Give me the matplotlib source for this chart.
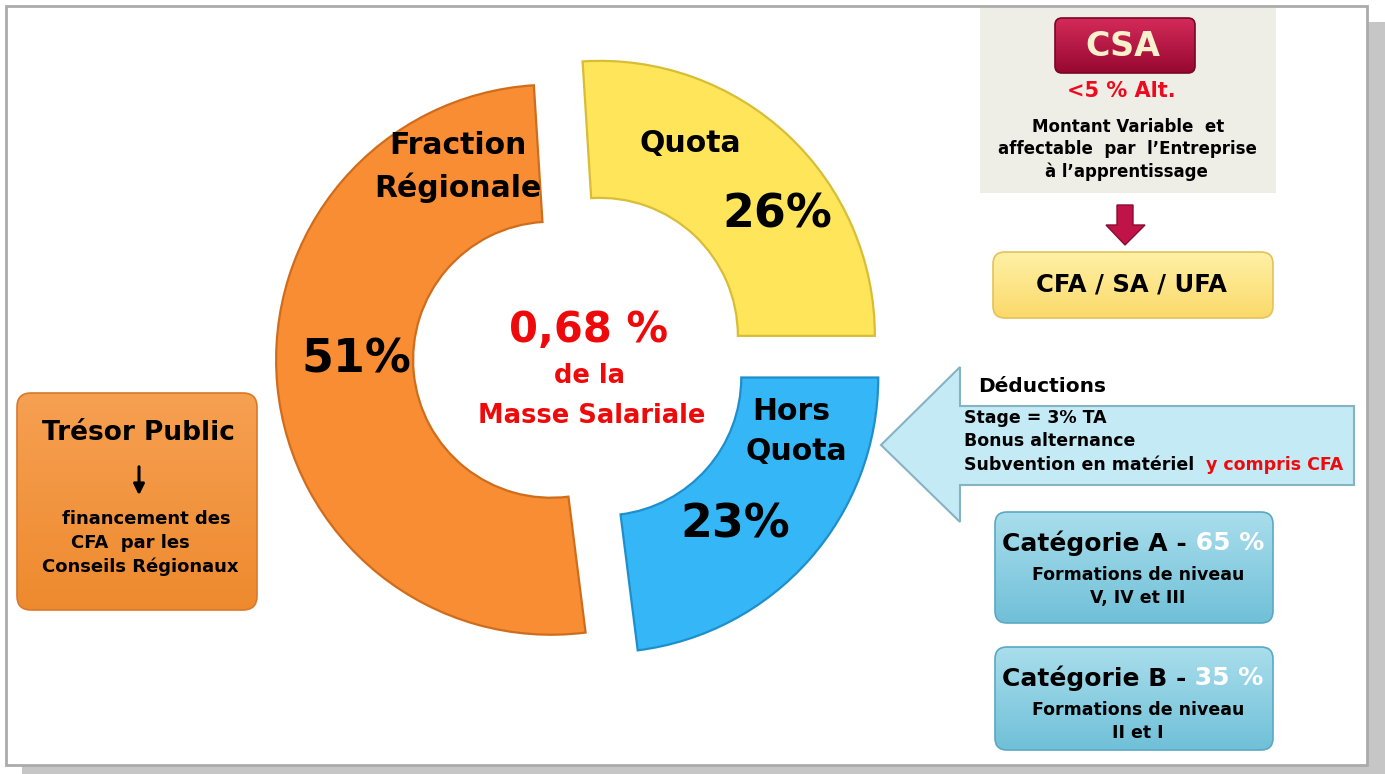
import numpy as np
import matplotlib
matplotlib.use("Agg")
import matplotlib.pyplot as plt
from matplotlib.patches import FancyBboxPatch, Polygon, Rectangle
from matplotlib.colors import LinearSegmentedColormap

# ---------------- data ----------------
categories = ["Quota", "Hors Quota", "Fraction Régionale"]
shares = [26, 23, 51]
center_title = ["0,68 %", "de la", "Masse Salariale"]
csa_lines = ["CSA", "<5 % Alt.", "Montant Variable  et", "affectable  par  l\u2019Entreprise", "à l\u2019apprentissage"]
cfa_label = "CFA / SA / UFA"
deduction_title = "Déductions"
deduction_lines = ["Stage = 3% TA", "Bonus alternance", "Subvention en matériel"]
deduction_red = "y compris CFA"
cat_names = ["Catégorie A -", "Catégorie B -"]
cat_pcts = [65, 35]
cat_desc = [["Formations de niveau", "V, IV et III"], ["Formations de niveau", "II et I"]]
tresor_title = "Trésor Public"
tresor_lines = ["financement des", "CFA  par les", "Conseils Régionaux"]

# ---------------- styles ----------------
W, H = 1385, 774
plt.rcParams['font.family'] = ['DejaVu Sans']
fig = plt.figure(figsize=(W / 100, H / 100), dpi=100, facecolor="white")
ax = fig.add_axes([0, 0, 1, 1])

def Y(y):
    return H - y

# frame + shadow
ax.add_patch(Rectangle((22, Y(774)), W - 22, 774 - 22, fc="#c6c6c6", ec="none", zorder=0))
ax.add_patch(Rectangle((6, Y(765)), 1361, 759, fc="white", ec="#ababab", lw=2, zorder=0.5))

def grad_box(x0, y0, x1, y1, c_top, c_bot, edge, rad, lw=1.2):
    p = FancyBboxPatch((x0 + rad, Y(y1) + rad), (x1 - x0) - 2 * rad, (y1 - y0) - 2 * rad,
                       boxstyle=f"round,pad={rad}", fc="none", ec=edge, lw=lw, zorder=3)
    ax.add_patch(p)
    grad = np.linspace(0, 1, 256)[:, None]
    cmap = LinearSegmentedColormap.from_list("g", [c_top, c_bot])
    im = ax.imshow(grad, extent=(x0, x1, Y(y1), Y(y0)), origin="upper", cmap=cmap,
                   aspect="auto", zorder=2, interpolation="bilinear")
    im.set_clip_path(p)
    return p

def txt(x, y, s, size, color="black", ha="center", **kw):
    return ax.text(x, Y(y), s, fontsize=size, color=color, ha=ha, va="center",
                   fontweight="bold", zorder=6, **kw)

# ---------------- donut ----------------
pie_colors = ["#fee55a", "#35b6f6", "#f98d33"]
edge_colors = ["#d9bd35", "#1f8fcc", "#cf6d1c"]
explode = [29, 31, 29]
wedges, _ = ax.pie(shares, startangle=93.6, counterclock=False, colors=pie_colors,
                   radius=275, center=(580, Y(357)), explode=explode,
                   wedgeprops=dict(width=137, linewidth=1.6))
for w, ec in zip(wedges, edge_colors):
    w.set_edgecolor(ec)
    w.set_zorder(2)

# segment labels
txt(458, 146, "Fraction", 21.5)
txt(458, 188, "Régionale", 21.5)
txt(690, 144, categories[0], 21.5)
txt(791, 411, categories[1].split()[0], 21.5)
txt(796, 452, categories[1].split()[1], 21.5)
txt(777, 215, f"{shares[0]}%", 33)
txt(735, 525, f"{shares[1]}%", 33)
txt(356, 360, f"{shares[2]}%", 33)

# centre
txt(589, 330, center_title[0], 30, color="#ee0a0a")
txt(589, 376, center_title[1], 18.5, color="#ee0a0a")
txt(592, 416, center_title[2], 18.5, color="#ee0a0a")

# ---------------- CSA panel ----------------
ax.add_patch(Rectangle((980, Y(193)), 296, 185, fc="#efeee6", ec="none", zorder=1))
grad_box(1055, 18, 1195, 73, "#d42a5a", "#96082f", "#7a0626", 7)
txt(1123, 46, csa_lines[0], 24, color="#f8f1cc")
txt(1121, 91, csa_lines[1], 15, color="#ee0a1e")
txt(1128, 127, csa_lines[2], 12)
txt(1127, 149, csa_lines[3], 12)
txt(1126, 172, csa_lines[4], 12)

# crimson arrow
ax.add_patch(Polygon([(1117, Y(205)), (1133, Y(205)), (1133, Y(225)), (1145, Y(225)),
                      (1125, Y(245)), (1106, Y(225)), (1117, Y(225))],
                     closed=True, fc="#c01448", ec="#8a0a30", lw=1, zorder=3))

# CFA box
grad_box(993, 252, 1273, 318, "#fff1a6", "#fbd96a", "#e3c25a", 12)
txt(1131, 285, cfa_label, 17.5)

# ---------------- deductions arrow ----------------
ax.add_patch(Polygon([(881, Y(445)), (960, Y(367)), (960, Y(406)), (1354, Y(406)),
                      (1354, Y(485)), (960, Y(485)), (960, Y(522))],
                     closed=True, fc="#c4eaf5", ec="#86b3c4", lw=1.5, zorder=3))
txt(978, 386, deduction_title, 14.5, ha="left")
txt(964, 418, deduction_lines[0], 12.5, ha="left")
txt(964, 441, deduction_lines[1], 12.5, ha="left")
t_sub = txt(964, 465, deduction_lines[2], 12.5, ha="left")
ax.annotate("  " + deduction_red, xy=(1, 0.5), xycoords=t_sub, ha="left", va="center",
            fontsize=12.5, fontweight="bold", color="#ee0a0a", zorder=6)

# ---------------- categories ----------------
for (y0, y1), name, pct, desc in zip([(512, 623), (647, 750)], cat_names, cat_pcts, cat_desc):
    grad_box(995, y0, 1273, y1, "#a9deec", "#70c0d8", "#5aa9c2", 12)
    t = txt(1002, y0 + 31, name, 18, ha="left")
    ax.annotate(f" {pct} %", xy=(1, 0.5), xycoords=t, ha="left", va="center",
                fontsize=18, fontweight="bold", color="white", zorder=6)
    txt(1138, y0 + 63, desc[0], 12.5)
    txt(1138, y0 + 86, desc[1], 12.5)

# ---------------- Trésor Public ----------------
grad_box(17, 393, 257, 610, "#f6a052", "#ee8a2e", "#d9782a", 14)
txt(138, 433, tresor_title, 19)
ax.annotate("", xy=(139, Y(498)), xytext=(139, Y(464)),
            arrowprops=dict(arrowstyle="-|>", color="black", lw=2.2, mutation_scale=16), zorder=6)
txt(146, 519, tresor_lines[0], 13)
txt(130, 543, tresor_lines[1], 13)
txt(140, 567, tresor_lines[2], 13)

ax.set_xlim(0, W)
ax.set_ylim(0, H)
ax.set_aspect("auto")
ax.axis("off")
fig.savefig("out.png", dpi=100, facecolor="white")
